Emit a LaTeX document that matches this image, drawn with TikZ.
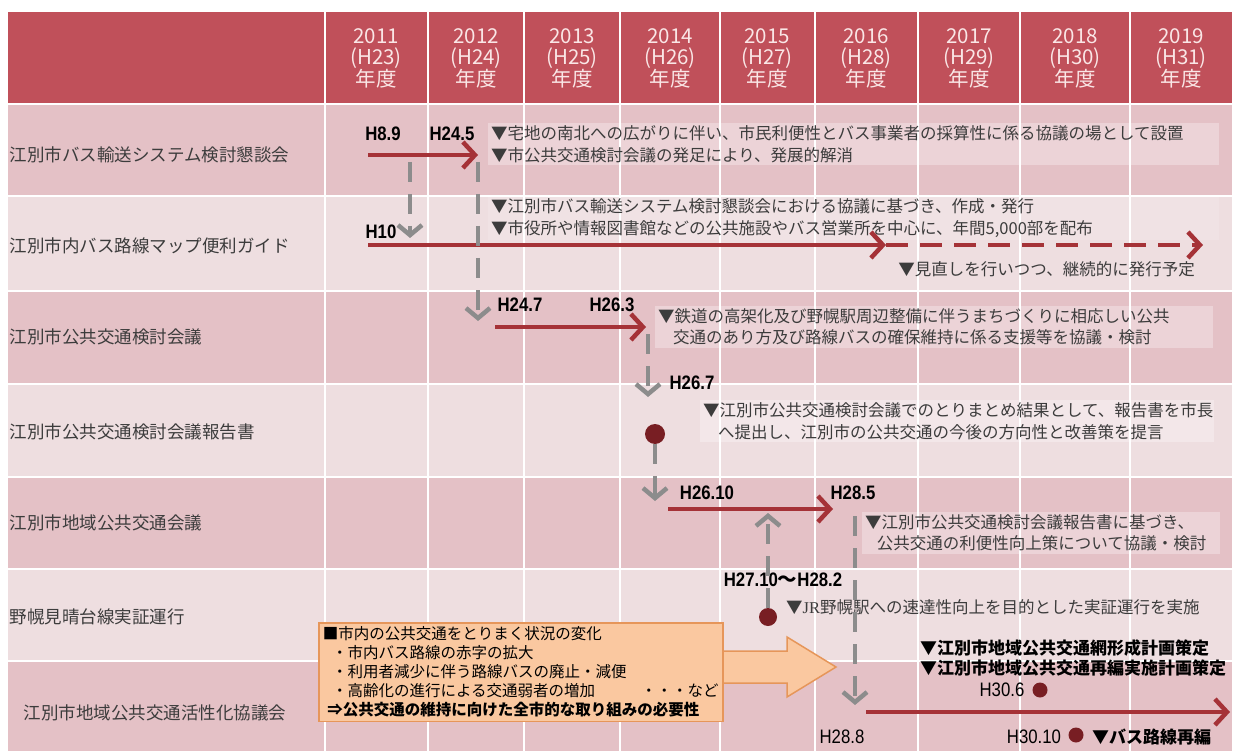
\documentclass[tikz,border=0pt]{standalone}
\usepackage{fontspec}
\setmainfont{Noto Sans CJK JP}
\newfontfamily\hfont{Liberation Sans}[FakeStretch=0.86]
\newfontfamily\jrfont{Liberation Serif}
\usetikzlibrary{arrows.meta}

\definecolor{hdrred}{HTML}{C0505A}
\definecolor{hdrtext}{HTML}{FAE6E6}
\definecolor{rowdark}{HTML}{E4C1C6}
\definecolor{rowlight}{HTML}{EEDEE0}
\definecolor{linered}{HTML}{A53237}
\definecolor{linegray}{HTML}{8C8C8C}
\definecolor{dotred}{HTML}{781E23}
\definecolor{orfill}{HTML}{FAC8A0}
\definecolor{ordraw}{HTML}{E6965A}
\definecolor{labeltext}{HTML}{3C3C3C}

\tikzset{
	yrlabel/.style={text=hdrtext, align=center, font=\fontsize{20.5}{21.5}\selectfont},
	rowlabel/.style={anchor=west, text=labeltext, font=\fontsize{17.5}{20}\selectfont},
	hlabel/.style={font=\hfont\bfseries\fontsize{19.5}{19}\selectfont, inner sep=0pt},
	hlabelthin/.style={font=\hfont\fontsize{19.5}{19}\selectfont, inner sep=0pt},
	note/.style={anchor=west, align=left, text=labeltext, fill=white, fill opacity=0.3, text opacity=1, inner sep=3pt, font=\fontsize{16.5}{21.5}\selectfont},
	boldnote/.style={anchor=west, align=left, text=black, inner sep=0pt, font=\bfseries\fontsize{17}{20}\selectfont},
	redline/.style={draw=linered, line width=4.5pt, -{Straight Barb[length=12pt,width=26pt]}},
	grayline/.style={draw=linegray, line width=4.5pt, dash pattern=on 20pt off 12pt, -{Straight Barb[length=10pt,width=24pt]}},
	evdot/.style={circle, fill=dotred, inner sep=0pt, minimum size=#1},
	evdot/.default=18pt,
	situbox/.style={anchor=north west, align=left, fill=orfill, draw=ordraw, line width=1.5pt, text width=396pt, minimum height=95pt, inner sep=4pt, text=black, font=\fontsize{15.5}{19}\selectfont},
}

\begin{document}
\begin{tikzpicture}[x=1pt, y=-1pt]
	\useasboundingbox (0,0) rectangle (1244,751);
	\fill [white] (0,0) rectangle (1244,751);
	
	\fill [hdrred] (8,12) rectangle (1232,103);
	\foreach \top/\bot/\col in {105/195/rowdark, 197/290/rowlight, 292/383/rowdark, 385/476/rowlight, 478/568/rowdark, 570/660/rowlight, 662/751/rowdark}
		\fill [\col] (8,\top) rectangle (1232,\bot);
	\foreach \x in {325,428,524,620,720,815,918,1020,1130}
		\draw [white, line width=1.5pt] (\x,12) -- (\x,751);
	
	\foreach \x/\yr/\h in {376/2011/23, 476/2012/24, 572/2013/25, 670/2014/26, 767/2015/27, 866/2016/28, 969/2017/29, 1075/2018/30, 1181/2019/31}
		\node [yrlabel] (y\yr) at (\x,58) {\yr\\(H\h)\\年度};
	
	\foreach \y/\txt [count=\i] in {155/江別市バス輸送システム検討懇談会, 246/江別市内バス路線マップ便利ガイド, 337/江別市公共交通検討会議, 432/江別市公共交通検討会議報告書, 523/江別市地域公共交通会議, 617/野幌見晴台線実証運行}
		\node [rowlabel] (row\i) at (6,\y) {\txt};
	\node [rowlabel] (row7) at (20,713) {江別市地域公共交通活性化協議会};
	
	% notes
	\node [note, text width=725pt] (n1) at (488,144) {▼宅地の南北への広がりに伴い、市民利便性とバス事業者の採算性に係る協議の場として設置\\▼市公共交通検討会議の発足により、発展的解消};
	\node [note, text width=725pt, fill opacity=0.15] (n2) at (488,218) {▼江別市バス輸送システム検討懇談会における協議に基づき、作成・発行\\▼市役所や情報図書館などの公共施設やバス営業所を中心に、年間5,000部を配布};
	\node [note, anchor=east, fill=none, inner sep=0pt] (n2b) at (1195,269) {▼見直しを行いつつ、継続的に発行予定};
	\node [note, text width=552pt] (n3) at (655,327) {▼鉄道の高架化及び野幌駅周辺整備に伴うまちづくりに相応しい公共\\\hspace*{0.9em}交通のあり方及び路線バスの確保維持に係る支援等を協議・検討};
	\node [note, text width=508pt] (n4) at (700,421) {▼江別市公共交通検討会議でのとりまとめ結果として、報告書を市長\\\hspace*{0.9em}へ提出し、江別市の公共交通の今後の方向性と改善策を提言};
	\node [note, text width=352pt] (n5) at (862,533) {▼江別市公共交通検討会議報告書に基づき、\\\hspace*{0.7em}公共交通の利便性向上策について協議・検討};
	\node [note, fill=none, inner sep=0pt] (n6) at (786,607) {▼{\jrfont JR}野幌駅への速達性向上を目的とした実証運行を実施};
	\node [boldnote] (n7) at (920,658) {▼江別市地域公共交通網形成計画策定\\▼江別市地域公共交通再編実施計画策定};
	\node [boldnote] (n8) at (1092,737) {▼バス路線再編};
	
	% dates
	\node [hlabel] (h89) at (383,134) {H8.9};
	\node [hlabel] (h245) at (452,134) {H24.5};
	\node [hlabel] (h10) at (381,232) {H10};
	\node [hlabel] (h247) at (520,305) {H24.7};
	\node [hlabel] (h263) at (612,305) {H26.3};
	\node [hlabel] (h267) at (692,383) {H26.7};
	\node [hlabel] (h2610) at (707,493) {H26.10};
	\node [hlabel] (h285) at (853,493) {H28.5};
	\node [hlabel] (h2710) at (783,580) {H27.10{\rmfamily\bfseries ～}H28.2};
	\node [hlabelthin] (h306) at (1002,690) {H30.6};
	\node [hlabelthin] (h288) at (842,737) {H28.8};
	\node [hlabelthin] (h3010) at (1034,737) {H30.10};
	
	\node [evdot=20pt] (d267) at (655,434) {};
	\node [evdot] (d2710) at (768,617) {};
	\node [evdot=15pt] (d306) at (1040,690) {};
	\node [evdot=15pt] (d3010) at (1076,735) {};
	
	% red periods
	\coordinate (k1) at (368,155);
	\coordinate (k2) at (478,155);
	\coordinate (m1) at (368,245);
	\coordinate (m2) at (886,245);
	\coordinate (m3) at (1203,245);
	\coordinate (c1) at (495,327);
	\coordinate (c2) at (646,327);
	\coordinate (t1) at (668,509);
	\coordinate (t2) at (833,509);
	\coordinate (a1) at (866,712);
	\coordinate (a2) at (1230,712);
	\draw [redline] (k1) -- (k2);
	\draw [redline] (m1) -- (m2);
	\draw [redline, dash pattern=on 22pt off 12pt] (m2) -- (m3);
	\draw [redline] (c1) -- (c2);
	\draw [redline] (t1) -- (t2);
	\draw [redline] (a1) -- (a2);
	
	% links
	\coordinate (g1s) at (410,162);
	\coordinate (g1e) at (410,238);
	\coordinate (g2s) at (478,162);
	\coordinate (g2e) at (478,321);
	\coordinate (g3s) at (648,334);
	\coordinate (g3e) at (648,397);
	\coordinate (g4e) at (655,501);
	\coordinate (g5e) at (768,513);
	\coordinate (g6s) at (855,516);
	\coordinate (g6e) at (855,705);
	\draw [grayline] (g1s) -- (g1e);
	\draw [grayline] (g2s) -- (g2e);
	\draw [grayline] (g3s) -- (g3e);
	\draw [grayline] (d267) -- (g4e);
	\draw [grayline] (d2710) -- (g5e);
	\draw [grayline] (g6s) -- (g6e);
	
	\filldraw [fill=orfill, draw=ordraw, line width=1.5pt] (712,651) -- (787,651) -- (787,637) -- (836,667) -- (787,697) -- (787,683) -- (712,683) -- cycle;
	\node [situbox] (situ) at (318,622) {■市内の公共交通をとりまく状況の変化\\\hspace*{0.6em}・市内バス路線の赤字の拡大\\\hspace*{0.6em}・利用者減少に伴う路線バスの廃止・減便\\\hspace*{0.6em}・高齢化の進行による交通弱者の増加\hfill・・・など\\\hspace*{0.3em}{\bfseries ⇒公共交通の維持に向けた全市的な取り組みの必要性}};
\end{tikzpicture}
\end{document}
